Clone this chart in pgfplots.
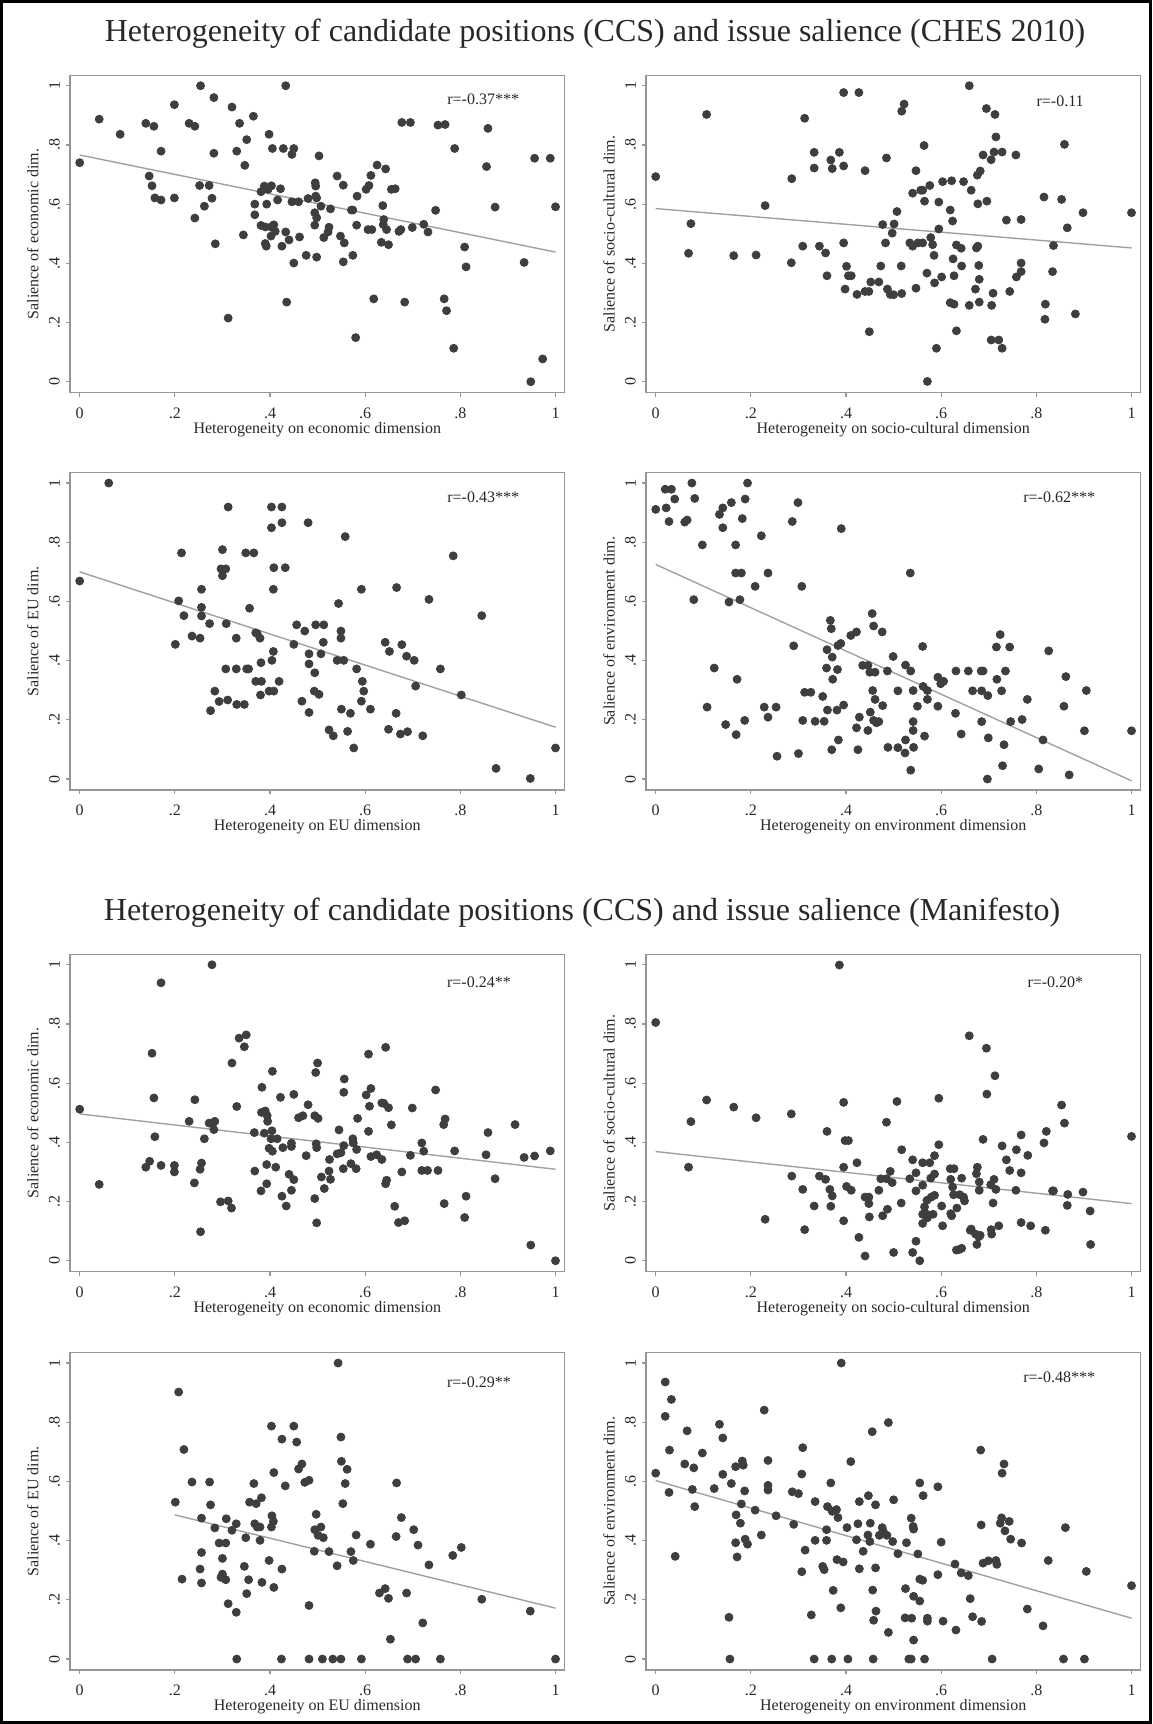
\documentclass[border=0pt]{standalone}
\usepackage{pgfplots}
\pgfplotsset{compat=1.18}
\usepackage{fontspec}
\setmainfont{Liberation Serif}
\definecolor{mk}{RGB}{62,62,62}
\definecolor{fr}{RGB}{150,150,150}
\definecolor{fl}{RGB}{160,160,160}
\definecolor{tx}{RGB}{40,40,40}
\pgfplotsset{
 panel/.style={
  scale only axis, width=247.45pt, height=158.65pt,
  anchor=south west, clip=false,
  xmin=-0.0208, xmax=1.0193, ymin=-0.037, ymax=1.035,
  xtick={0,0.2,0.4,0.6,0.8,1}, xticklabels={0,.2,.4,.6,.8,1},
  ytick={0,0.2,0.4,0.6,0.8,1}, yticklabels={0,.2,.4,.6,.8,1},
  tick pos=left, tick align=outside, major tick length=2pt,
  tick style={fr, line width=0.6pt},
  axis line style={fr, line width=0.7pt},
  font=\fontsize{8}{9.6}\selectfont,
  every tick label/.append style={tx},
  xticklabel style={anchor=north, inner sep=0pt},
  xticklabel shift=5.2pt,
  yticklabel style={rotate=90, anchor=south, inner sep=0pt},
  yticklabel shift=2.8pt,
  every axis x label/.style={at={(axis description cs:0.5,-0.1155)}, anchor=center, tx},
  every axis y label/.style={at={(axis description cs:-0.0744,0.5)}, rotate=90, anchor=center, tx},
 },
 dots/.style={only marks, mark=*, mark size=2pt, mk, mark options={draw=mk, fill=mk}},
 fit/.style={no marks, fl, line width=0.7pt},
}
\begin{document}
\begin{tikzpicture}
\useasboundingbox (0,0) rectangle (576pt,862pt);
\draw[line width=1.6pt] (0.8pt,0.8pt) rectangle (575.2pt,861.2pt);
\node[font=\fontsize{16}{19}\selectfont, tx] at (297.5pt,845pt) {Heterogeneity of candidate positions (CCS) and issue salience (CHES 2010)};
\node[font=\fontsize{16}{19}\selectfont, tx] at (291pt,405.5pt) {Heterogeneity of candidate positions (CCS) and issue salience (Manifesto)};

% Panel 1
\begin{axis}[panel, at={(34.9pt,665.65pt)}, xlabel={Heterogeneity on economic dimension}, ylabel={Salience of economic dim.}]
\addplot[dots] coordinates {(0,0.740)(0.041,0.887)(0.085,0.836)(0.139,0.873)(0.156,0.863)(0.171,0.779)(0.146,0.695)(0.152,0.662)(0.158,0.621)(0.171,0.614)(0.199,0.936)(0.199,0.621)(0.230,0.873)(0.242,0.863)(0.254,1.0)(0.252,0.663)(0.242,0.553)(0.262,0.593)(0.272,0.663)(0.282,0.960)(0.282,0.772)(0.278,0.620)(0.285,0.466)(0.312,0.215)(0.320,0.928)(0.330,0.779)(0.336,0.873)(0.351,0.818)(0.347,0.731)(0.344,0.496)(0.365,0.897)(0.368,0.600)(0.368,0.564)(0.381,0.642)(0.388,0.661)(0.398,0.836)(0.393,0.600)(0.396,0.650)(0.403,0.662)(0.405,0.788)(0.381,0.528)(0.390,0.523)(0.402,0.523)(0.408,0.530)(0.411,0.508)(0.402,0.492)(0.390,0.467)(0.392,0.458)(0.416,0.614)(0.422,0.652)(0.428,0.788)(0.433,1.0)(0.446,0.768)(0.450,0.788)(0.446,0.608)(0.460,0.608)(0.433,0.506)(0.440,0.479)(0.425,0.458)(0.450,0.401)(0.462,0.489)(0.435,0.269)(0.480,0.619)(0.476,0.427)(0.495,0.672)(0.496,0.661)(0.496,0.627)(0.498,0.621)(0.503,0.763)(0.494,0.571)(0.498,0.554)(0.494,0.529)(0.507,0.593)(0.498,0.421)(0.513,0.487)(0.522,0.506)(0.524,0.522)(0.527,0.584)(0.541,0.695)(0.554,0.664)(0.548,0.492)(0.556,0.469)(0.554,0.405)(0.571,0.580)(0.574,0.580)(0.574,0.427)(0.583,0.627)(0.582,0.529)(0.580,0.149)(0.602,0.650)(0.608,0.663)(0.612,0.697)(0.606,0.514)(0.614,0.514)(0.618,0.280)(0.625,0.732)(0.637,0.595)(0.643,0.719)(0.639,0.548)(0.638,0.531)(0.645,0.514)(0.634,0.471)(0.649,0.463)(0.655,0.650)(0.663,0.652)(0.671,0.508)(0.675,0.514)(0.677,0.876)(0.695,0.876)(0.683,0.269)(0.699,0.521)(0.723,0.532)(0.732,0.506)(0.748,0.579)(0.753,0.867)(0.768,0.869)(0.766,0.280)(0.771,0.240)(0.788,0.788)(0.786,0.113)(0.809,0.455)(0.812,0.388)(0.858,0.856)(0.855,0.727)(0.873,0.590)(0.934,0.403)(0.956,0.755)(0.989,0.755)(0.948,0.0)(0.973,0.077)(1.0,0.591)};
\addplot[fit] coordinates {(0,0.766)(1,0.438)};
\node[tx] at (axis cs:0.848,0.955) {r=-0.37***};
\end{axis}

% Panel 2
\begin{axis}[panel, at={(322.9pt,665.65pt)}, xlabel={Heterogeneity on socio-cultural dimension}, ylabel={Salience of socio-cultural dim.}]
\addplot[dots] coordinates {(0,0.693)(0.107,0.903)(0.069,0.434)(0.074,0.534)(0.164,0.426)(0.211,0.428)(0.230,0.595)(0.286,0.686)(0.285,0.402)(0.309,0.458)(0.313,0.890)(0.333,0.775)(0.333,0.722)(0.344,0.458)(0.357,0.435)(0.360,0.358)(0.368,0.749)(0.371,0.720)(0.386,0.775)(0.395,0.977)(0.395,0.729)(0.395,0.469)(0.401,0.390)(0.398,0.313)(0.405,0.358)(0.411,0.358)(0.427,0.977)(0.423,0.295)(0.440,0.713)(0.440,0.305)(0.448,0.305)(0.449,0.169)(0.452,0.337)(0.469,0.337)(0.473,0.391)(0.477,0.531)(0.485,0.756)(0.483,0.469)(0.487,0.313)(0.493,0.295)(0.500,0.294)(0.497,0.502)(0.501,0.533)(0.507,0.575)(0.516,0.391)(0.517,0.298)(0.517,0.914)(0.522,0.938)(0.534,0.469)(0.540,0.637)(0.540,0.458)(0.547,0.713)(0.547,0.316)(0.551,0.469)(0.557,0.647)(0.561,0.647)(0.561,0.469)(0.564,0.798)(0.565,0.610)(0.570,0.367)(0.571,0.001)(0.576,0.663)(0.578,0.487)(0.582,0.463)(0.585,0.427)(0.586,0.334)(0.590,0.113)(0.595,0.607)(0.595,0.516)(0.601,0.354)(0.603,0.676)(0.619,0.580)(0.622,0.679)(0.624,0.543)(0.625,0.415)(0.627,0.358)(0.619,0.267)(0.627,0.262)(0.632,0.462)(0.642,0.451)(0.643,0.391)(0.632,0.172)(0.647,0.676)(0.659,1.0)(0.663,0.647)(0.659,0.258)(0.672,0.313)(0.676,0.698)(0.682,0.712)(0.674,0.452)(0.677,0.458)(0.677,0.601)(0.679,0.393)(0.680,0.346)(0.680,0.269)(0.688,0.766)(0.695,0.923)(0.696,0.610)(0.705,0.750)(0.713,0.903)(0.715,0.827)(0.711,0.776)(0.728,0.776)(0.709,0.299)(0.706,0.258)(0.705,0.141)(0.721,0.141)(0.728,0.113)(0.737,0.546)(0.744,0.305)(0.757,0.766)(0.758,0.354)(0.768,0.548)(0.768,0.401)(0.768,0.372)(0.816,0.624)(0.819,0.262)(0.818,0.211)(0.836,0.460)(0.834,0.372)(0.853,0.616)(0.859,0.802)(0.865,0.520)(0.882,0.229)(0.898,0.571)(1.0,0.571)};
\addplot[fit] coordinates {(0,0.585)(1,0.452)};
\node[tx] at (axis cs:0.85,0.949) {r=-0.11};
\end{axis}

% Panel 3
\begin{axis}[panel, at={(34.9pt,467pt)}, xlabel={Heterogeneity on EU dimension}, ylabel={Salience of EU dim.}]
\addplot[dots] coordinates {(0,0.669)(0.061,1.0)(0.201,0.455)(0.208,0.602)(0.214,0.764)(0.219,0.552)(0.236,0.483)(0.253,0.476)(0.256,0.580)(0.256,0.551)(0.256,0.641)(0.273,0.525)(0.275,0.231)(0.284,0.297)(0.293,0.262)(0.300,0.775)(0.297,0.710)(0.307,0.710)(0.300,0.687)(0.312,0.919)(0.308,0.525)(0.307,0.372)(0.311,0.267)(0.329,0.476)(0.329,0.372)(0.330,0.252)(0.346,0.252)(0.349,0.764)(0.366,0.764)(0.351,0.372)(0.355,0.372)(0.357,0.577)(0.370,0.494)(0.373,0.491)(0.379,0.476)(0.370,0.330)(0.382,0.330)(0.381,0.393)(0.380,0.284)(0.403,0.919)(0.403,0.849)(0.408,0.714)(0.407,0.641)(0.407,0.431)(0.404,0.401)(0.398,0.297)(0.408,0.297)(0.419,0.330)(0.425,0.919)(0.425,0.866)(0.432,0.714)(0.450,0.455)(0.456,0.521)(0.467,0.263)(0.473,0.500)(0.480,0.866)(0.482,0.423)(0.482,0.389)(0.482,0.225)(0.494,0.359)(0.496,0.521)(0.493,0.297)(0.503,0.286)(0.507,0.423)(0.512,0.462)(0.513,0.521)(0.524,0.166)(0.533,0.146)(0.544,0.593)(0.541,0.401)(0.549,0.500)(0.549,0.476)(0.555,0.401)(0.550,0.236)(0.558,0.819)(0.563,0.161)(0.569,0.222)(0.576,0.105)(0.582,0.372)(0.592,0.641)(0.594,0.330)(0.597,0.297)(0.592,0.263)(0.611,0.236)(0.642,0.462)(0.651,0.431)(0.649,0.168)(0.666,0.647)(0.677,0.454)(0.665,0.222)(0.674,0.152)(0.687,0.415)(0.689,0.160)(0.703,0.401)(0.706,0.314)(0.721,0.146)(0.734,0.607)(0.758,0.372)(0.785,0.754)(0.802,0.284)(0.845,0.552)(0.875,0.036)(0.947,0.002)(1.0,0.105)};
\addplot[fit] coordinates {(0,0.700)(1,0.175)};
\node[tx] at (axis cs:0.848,0.951) {r=-0.43***};
\end{axis}

% Panel 4
\begin{axis}[panel, at={(322.9pt,467pt)}, xlabel={Heterogeneity on environment dimension}, ylabel={Salience of environment dim.}]
\addplot[dots] coordinates {(0,0.911)(0.020,0.979)(0.033,0.979)(0.022,0.916)(0.028,0.870)(0.040,0.946)(0.061,0.868)(0.066,0.875)(0.076,1.0)(0.082,0.948)(0.080,0.606)(0.098,0.791)(0.123,0.375)(0.108,0.243)(0.134,0.894)(0.141,0.916)(0.141,0.849)(0.159,0.934)(0.168,0.791)(0.147,0.184)(0.154,0.598)(0.168,0.696)(0.180,0.696)(0.177,0.606)(0.171,0.337)(0.169,0.150)(0.182,0.880)(0.188,0.946)(0.193,1.0)(0.187,0.198)(0.209,0.651)(0.222,0.822)(0.228,0.243)(0.236,0.696)(0.236,0.209)(0.253,0.243)(0.255,0.077)(0.287,0.870)(0.290,0.450)(0.299,0.934)(0.307,0.651)(0.309,0.198)(0.300,0.086)(0.313,0.293)(0.326,0.293)(0.335,0.195)(0.351,0.279)(0.354,0.195)(0.359,0.375)(0.360,0.437)(0.361,0.233)(0.367,0.536)(0.369,0.508)(0.371,0.412)(0.372,0.337)(0.370,0.099)(0.382,0.370)(0.383,0.451)(0.389,0.458)(0.381,0.233)(0.384,0.132)(0.390,0.846)(0.395,0.250)(0.410,0.485)(0.422,0.497)(0.422,0.173)(0.428,0.209)(0.425,0.099)(0.435,0.384)(0.446,0.384)(0.450,0.361)(0.446,0.164)(0.451,0.226)(0.455,0.559)(0.458,0.517)(0.461,0.361)(0.456,0.299)(0.461,0.269)(0.458,0.198)(0.464,0.190)(0.469,0.194)(0.476,0.497)(0.477,0.248)(0.487,0.365)(0.499,0.414)(0.488,0.107)(0.509,0.298)(0.509,0.106)(0.525,0.385)(0.525,0.132)(0.524,0.088)(0.535,0.696)(0.536,0.365)(0.541,0.299)(0.541,0.194)(0.541,0.164)(0.542,0.107)(0.536,0.030)(0.550,0.246)(0.561,0.448)(0.562,0.313)(0.565,0.145)(0.571,0.299)(0.571,0.269)(0.593,0.344)(0.599,0.322)(0.605,0.330)(0.593,0.246)(0.630,0.222)(0.631,0.365)(0.642,0.152)(0.657,0.365)(0.666,0.298)(0.684,0.365)(0.688,0.365)(0.685,0.298)(0.685,0.194)(0.698,0.282)(0.699,0.139)(0.697,0.0)(0.716,0.446)(0.717,0.337)(0.724,0.488)(0.727,0.298)(0.735,0.365)(0.732,0.116)(0.729,0.045)(0.744,0.446)(0.746,0.194)(0.770,0.201)(0.781,0.269)(0.805,0.034)(0.814,0.132)(0.826,0.433)(0.858,0.246)(0.862,0.346)(0.869,0.014)(0.901,0.163)(0.905,0.299)(1.0,0.163)};
\addplot[fit] coordinates {(0,0.725)(1,-0.006)};
\node[tx] at (axis cs:0.848,0.951) {r=-0.62***};
\end{axis}

% Panel 5
\begin{axis}[panel, at={(34.9pt,226.15pt)}, xlabel={Heterogeneity on economic dimension}, ylabel={Salience of economic dim.}]
\addplot[dots] coordinates {(0,0.512)(0.041,0.258)(0.139,0.316)(0.147,0.336)(0.152,0.701)(0.156,0.550)(0.158,0.419)(0.171,0.939)(0.171,0.322)(0.199,0.322)(0.199,0.300)(0.230,0.471)(0.242,0.544)(0.241,0.263)(0.253,0.309)(0.256,0.330)(0.254,0.098)(0.262,0.412)(0.272,0.465)(0.278,1.0)(0.280,0.465)(0.282,0.443)(0.284,0.471)(0.296,0.199)(0.312,0.202)(0.319,0.178)(0.320,0.668)(0.330,0.521)(0.335,0.752)(0.350,0.763)(0.346,0.723)(0.367,0.433)(0.368,0.303)(0.383,0.586)(0.382,0.501)(0.390,0.506)(0.388,0.431)(0.394,0.490)(0.395,0.471)(0.393,0.325)(0.381,0.236)(0.393,0.260)(0.398,0.380)(0.402,0.412)(0.404,0.439)(0.405,0.640)(0.405,0.370)(0.412,0.316)(0.415,0.412)(0.422,0.552)(0.427,0.382)(0.425,0.218)(0.434,0.185)(0.440,0.292)(0.445,0.397)(0.445,0.386)(0.445,0.238)(0.450,0.562)(0.450,0.274)(0.460,0.483)(0.469,0.490)(0.476,0.355)(0.480,0.527)(0.494,0.490)(0.501,0.481)(0.496,0.636)(0.500,0.668)(0.497,0.395)(0.498,0.382)(0.494,0.210)(0.498,0.128)(0.508,0.283)(0.514,0.244)(0.524,0.303)(0.525,0.342)(0.527,0.275)(0.541,0.361)(0.545,0.442)(0.549,0.365)(0.554,0.311)(0.555,0.389)(0.556,0.614)(0.555,0.569)(0.570,0.328)(0.574,0.412)(0.575,0.398)(0.581,0.311)(0.582,0.376)(0.584,0.481)(0.602,0.560)(0.607,0.698)(0.607,0.437)(0.609,0.522)(0.612,0.582)(0.612,0.352)(0.624,0.358)(0.635,0.342)(0.635,0.533)(0.639,0.532)(0.643,0.721)(0.643,0.260)(0.645,0.272)(0.649,0.517)(0.655,0.459)(0.662,0.184)(0.670,0.129)(0.677,0.300)(0.683,0.135)(0.695,0.356)(0.699,0.516)(0.719,0.398)(0.723,0.370)(0.719,0.305)(0.731,0.305)(0.748,0.577)(0.753,0.305)(0.765,0.460)(0.768,0.479)(0.766,0.193)(0.788,0.371)(0.812,0.218)(0.809,0.146)(0.854,0.358)(0.858,0.433)(0.873,0.277)(0.915,0.460)(0.934,0.349)(0.956,0.354)(0.948,0.053)(0.989,0.371)(1.0,0.0)};
\addplot[fit] coordinates {(0,0.496)(1,0.309)};
\node[tx] at (axis cs:0.839,0.942) {r=-0.24**};
\end{axis}

% Panel 6
\begin{axis}[panel, at={(322.9pt,226.15pt)}, xlabel={Heterogeneity on socio-cultural dimension}, ylabel={Salience of socio-cultural dim.}]
\addplot[dots] coordinates {(0,0.805)(0.069,0.316)(0.074,0.470)(0.107,0.543)(0.164,0.519)(0.211,0.483)(0.230,0.140)(0.285,0.496)(0.286,0.286)(0.309,0.241)(0.313,0.105)(0.333,0.185)(0.344,0.286)(0.357,0.275)(0.360,0.437)(0.366,0.241)(0.371,0.219)(0.368,0.184)(0.386,0.999)(0.395,0.535)(0.398,0.406)(0.405,0.406)(0.395,0.316)(0.401,0.251)(0.411,0.238)(0.395,0.135)(0.423,0.331)(0.427,0.079)(0.440,0.215)(0.448,0.215)(0.448,0.193)(0.449,0.148)(0.440,0.016)(0.469,0.238)(0.473,0.277)(0.477,0.152)(0.485,0.468)(0.485,0.277)(0.487,0.174)(0.493,0.302)(0.497,0.264)(0.500,0.028)(0.507,0.538)(0.517,0.375)(0.516,0.195)(0.534,0.277)(0.540,0.341)(0.547,0.297)(0.547,0.236)(0.547,0.066)(0.540,0.028)(0.555,0.0)(0.561,0.331)(0.561,0.255)(0.561,0.157)(0.561,0.126)(0.565,0.182)(0.570,0.204)(0.570,0.157)(0.571,0.145)(0.576,0.331)(0.578,0.279)(0.579,0.215)(0.583,0.157)(0.586,0.355)(0.586,0.293)(0.586,0.221)(0.595,0.549)(0.595,0.392)(0.601,0.185)(0.603,0.118)(0.619,0.311)(0.620,0.275)(0.624,0.249)(0.626,0.223)(0.620,0.159)(0.622,0.152)(0.627,0.311)(0.632,0.036)(0.633,0.178)(0.638,0.038)(0.643,0.042)(0.643,0.279)(0.639,0.223)(0.647,0.215)(0.649,0.202)(0.659,0.760)(0.661,0.103)(0.663,0.107)(0.672,0.090)(0.675,0.055)(0.676,0.316)(0.674,0.294)(0.680,0.238)(0.680,0.266)(0.679,0.081)(0.682,0.086)(0.688,0.410)(0.695,0.718)(0.696,0.563)(0.704,0.257)(0.705,0.105)(0.706,0.090)(0.709,0.195)(0.711,0.275)(0.715,0.241)(0.713,0.625)(0.721,0.118)(0.728,0.388)(0.737,0.341)(0.744,0.305)(0.757,0.238)(0.758,0.375)(0.768,0.425)(0.768,0.297)(0.768,0.129)(0.782,0.356)(0.788,0.118)(0.816,0.398)(0.821,0.437)(0.819,0.103)(0.834,0.236)(0.836,0.236)(0.853,0.526)(0.859,0.465)(0.866,0.224)(0.865,0.187)(0.898,0.232)(0.913,0.168)(0.914,0.055)(1.0,0.420)};
\addplot[fit] coordinates {(0,0.369)(1,0.193)};
\node[tx] at (axis cs:0.84,0.942) {r=-0.20*};
\end{axis}

% Panel 7
\begin{axis}[panel, at={(34.9pt,27pt)}, xlabel={Heterogeneity on EU dimension}, ylabel={Salience of EU dim.}]
\addplot[dots] coordinates {(0.201,0.530)(0.208,0.902)(0.219,0.708)(0.215,0.270)(0.236,0.598)(0.256,0.476)(0.256,0.360)(0.253,0.304)(0.256,0.257)(0.273,0.598)(0.275,0.521)(0.284,0.443)(0.293,0.392)(0.307,0.392)(0.300,0.340)(0.297,0.276)(0.300,0.287)(0.307,0.268)(0.308,0.474)(0.312,0.187)(0.320,0.435)(0.329,0.457)(0.329,0.158)(0.330,0.0)(0.346,0.313)(0.349,0.410)(0.351,0.221)(0.355,0.268)(0.357,0.530)(0.366,0.593)(0.371,0.525)(0.368,0.457)(0.373,0.446)(0.379,0.446)(0.379,0.401)(0.382,0.545)(0.383,0.259)(0.403,0.787)(0.408,0.630)(0.404,0.484)(0.407,0.465)(0.403,0.446)(0.398,0.333)(0.408,0.242)(0.425,0.743)(0.432,0.585)(0.425,0.304)(0.424,0.0)(0.450,0.787)(0.456,0.733)(0.460,0.642)(0.467,0.659)(0.473,0.597)(0.482,0.604)(0.497,0.489)(0.494,0.437)(0.507,0.446)(0.501,0.418)(0.512,0.410)(0.493,0.364)(0.482,0.181)(0.482,0.0)(0.510,0.0)(0.524,0.363)(0.541,0.315)(0.532,0.0)(0.549,0.0)(0.543,1.0)(0.549,0.750)(0.550,0.668)(0.562,0.641)(0.558,0.593)(0.553,0.525)(0.570,0.363)(0.575,0.333)(0.581,0.419)(0.592,0.0)(0.611,0.388)(0.630,0.223)(0.642,0.238)(0.649,0.205)(0.653,0.067)(0.666,0.595)(0.665,0.414)(0.676,0.478)(0.687,0.223)(0.689,0.0)(0.702,0.437)(0.711,0.385)(0.706,0.0)(0.721,0.122)(0.734,0.318)(0.758,0.0)(0.784,0.350)(0.802,0.377)(0.845,0.202)(0.947,0.162)(1.0,0.0)};
\addplot[fit] coordinates {(0.2,0.487)(1,0.172)};
\node[tx] at (axis cs:0.839,0.936) {r=-0.29**};
\end{axis}

% Panel 8
\begin{axis}[panel, at={(322.9pt,27pt)}, xlabel={Heterogeneity on environment dimension}, ylabel={Salience of environment dim.}]
\addplot[dots] coordinates {(0,0.628)(0.020,0.936)(0.020,0.820)(0.033,0.877)(0.029,0.706)(0.028,0.563)(0.041,0.347)(0.061,0.659)(0.066,0.771)(0.077,0.573)(0.080,0.646)(0.082,0.515)(0.098,0.696)(0.123,0.576)(0.134,0.793)(0.141,0.747)(0.141,0.624)(0.154,0.141)(0.156,0.0)(0.159,0.593)(0.168,0.650)(0.169,0.487)(0.168,0.393)(0.171,0.345)(0.178,0.459)(0.182,0.669)(0.184,0.655)(0.180,0.524)(0.187,0.568)(0.188,0.405)(0.193,0.388)(0.209,0.503)(0.222,0.419)(0.228,0.841)(0.236,0.671)(0.236,0.587)(0.236,0.571)(0.253,0.484)(0.287,0.565)(0.290,0.455)(0.300,0.559)(0.307,0.625)(0.309,0.714)(0.307,0.295)(0.314,0.368)(0.327,0.149)(0.335,0.532)(0.335,0.401)(0.333,0.0)(0.351,0.313)(0.354,0.302)(0.359,0.437)(0.359,0.401)(0.361,0.515)(0.368,0.595)(0.371,0.499)(0.373,0.232)(0.370,0.0)(0.380,0.505)(0.383,0.478)(0.381,0.336)(0.389,0.173)(0.390,1.0)(0.394,0.328)(0.402,0.444)(0.404,0.0)(0.410,0.667)(0.422,0.403)(0.425,0.457)(0.428,0.532)(0.428,0.305)(0.436,0.364)(0.447,0.552)(0.446,0.419)(0.450,0.397)(0.451,0.459)(0.455,0.768)(0.456,0.233)(0.458,0.131)(0.457,0.0)(0.462,0.521)(0.462,0.308)(0.463,0.162)(0.470,0.418)(0.476,0.444)(0.478,0.432)(0.486,0.418)(0.489,0.799)(0.489,0.090)(0.498,0.397)(0.500,0.538)(0.509,0.356)(0.527,0.393)(0.525,0.238)(0.524,0.139)(0.532,0.0)(0.537,0.0)(0.537,0.476)(0.541,0.448)(0.542,0.439)(0.538,0.138)(0.542,0.212)(0.542,0.064)(0.551,0.355)(0.555,0.595)(0.555,0.196)(0.555,0.270)(0.561,0.266)(0.562,0.552)(0.565,0.0)(0.571,0.138)(0.571,0.128)(0.593,0.582)(0.593,0.285)(0.600,0.395)(0.604,0.128)(0.629,0.321)(0.631,0.098)(0.642,0.291)(0.657,0.282)(0.661,0.204)(0.666,0.143)(0.683,0.706)(0.684,0.453)(0.685,0.127)(0.688,0.324)(0.699,0.332)(0.707,0.0)(0.715,0.333)(0.717,0.320)(0.724,0.459)(0.727,0.477)(0.728,0.628)(0.732,0.659)(0.734,0.433)(0.743,0.465)(0.746,0.405)(0.769,0.392)(0.781,0.169)(0.814,0.112)(0.825,0.333)(0.857,0.0)(0.861,0.444)(0.901,0.0)(0.905,0.296)(1.0,0.248)};
\addplot[fit] coordinates {(0,0.603)(1,0.138)};
\node[tx] at (axis cs:0.848,0.953) {r=-0.48***};
\end{axis}
\end{tikzpicture}
\end{document}
